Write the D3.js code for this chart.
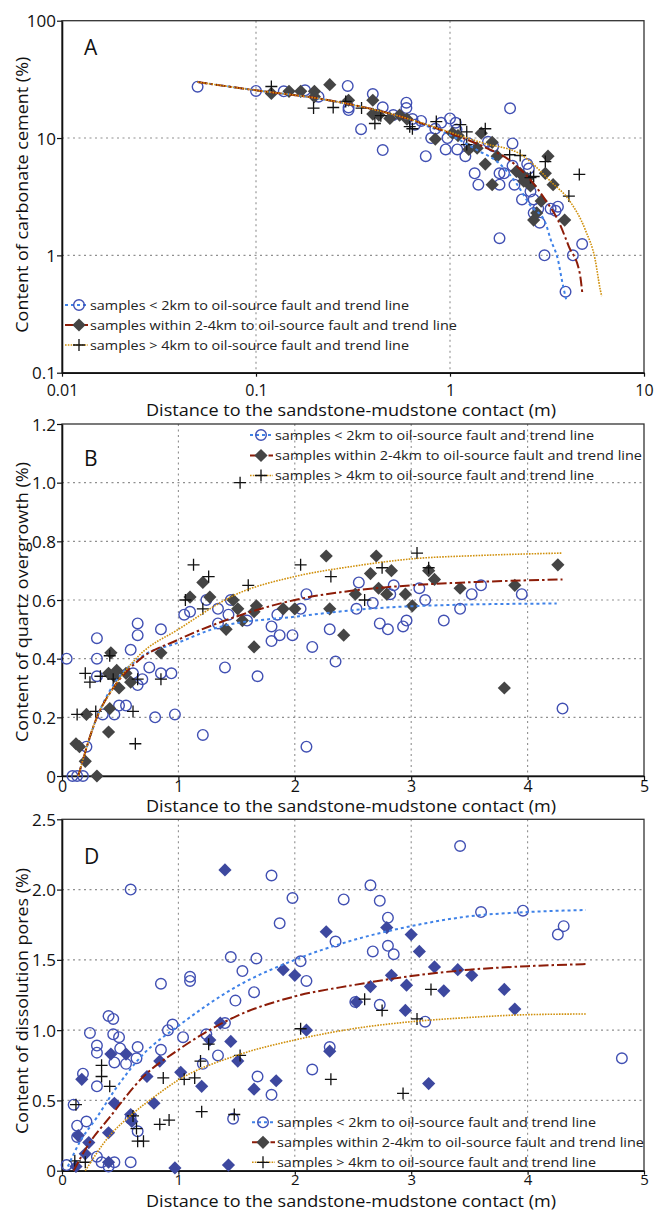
<!DOCTYPE html>
<html><head><meta charset="utf-8">
<script src="https://cdn.jsdelivr.net/npm/d3@7"></script>
<style>body{margin:0;background:#fff}svg{display:block;font-family:"Open Sans",sans-serif}</style>
</head><body><svg id="c" width="656" height="1211"></svg>
<script>
// ---------- Panel A data (log-log) ----------
const aNear = [[0.05,27.4],[0.1,25.2],[0.139,25],[0.179,25.5],[0.21,22.5],[0.297,27.8],[0.3,17.3],[0.3,18.2],[0.348,11.9],[0.4,23.7],[0.45,18.3],[0.45,7.9],[0.51,15.7],[0.596,20],[0.596,18],[0.64,14.5],[0.66,13],[0.71,14],[0.75,7],[0.8,10],[0.84,12],[0.9,13.5],[0.95,8],[0.97,10],[1.0,14.7],[1.07,13.5],[1.08,11.8],[1.09,8],[1.2,7],[1.25,9],[1.34,5],[1.4,4],[1.57,9.3],[1.67,8.5],[1.8,5],[1.8,4],[1.8,1.4],[1.9,5],[2.04,17.9],[2.1,9],[2.1,5.8],[2.15,4],[2.35,3],[2.5,6],[2.55,5.5],[2.6,3.5],[2.7,3],[2.7,2.3],[2.85,2.5],[2.9,1.9],[3.07,1.0],[3.3,2.5],[3.5,2.4],[3.6,2.6],[3.94,0.49],[4.3,1.0],[4.8,1.25]];
const aMid = [[0.12,24],[0.148,25],[0.17,25],[0.2,25],[0.2,22.5],[0.24,28.5],[0.3,21],[0.4,21],[0.4,16],[0.43,15.7],[0.49,14.7],[0.55,15.7],[0.6,14.5],[0.84,9.8],[1.03,11],[1.1,10.5],[1.25,8],[1.38,8.2],[1.45,11],[1.52,6],[1.65,4],[1.65,9.2],[1.75,7],[2.3,5],[2.4,4.3],[2.6,3.9],[2.7,2],[2.8,2.3],[2.95,2.9],[3.1,5],[3.2,7],[3.4,4],[3.9,2],[2.2,5.2],[2.5,4.5]];
const aFar = [[0.12,27.5],[0.198,18],[0.25,18.2],[0.29,20.5],[0.35,18],[0.41,13.3],[0.44,15.5],[0.62,12.5],[0.64,12],[0.85,13.8],[1.13,13],[1.22,11.3],[1.22,8.8],[1.52,12],[2.03,7.2],[2.3,7.1],[2.6,4.6],[2.7,4.7],[3.1,6.3],[4.1,3.2],[4.64,4.9]];
const aTrendNear = [[0.05,30],[0.1,25.5],[0.2,22],[0.3,19.5],[0.5,16],[0.7,13.3],[1.0,10.6],[1.4,7.8],[1.77,6.2],[2.2,4.1],[2.58,2.7],[3.1,1.9],[3.3,1.37],[3.6,0.92],[3.8,0.58],[3.97,0.42]];
const aTrendMid = [[0.05,30],[0.1,25.5],[0.2,22],[0.3,19.5],[0.5,16],[0.7,13.5],[1.0,11],[1.5,8.4],[2.02,6.5],[2.63,4.3],[3.1,2.97],[3.6,2.0],[4.1,1.19],[4.66,0.71],[4.82,0.46]];
const aTrendFar = [[0.05,30],[0.1,25.5],[0.2,22],[0.3,19.5],[0.5,16],[0.7,13.6],[1.0,11.2],[1.5,9.0],[2.27,7.4],[3.35,4.17],[4.1,2.97],[4.99,1.64],[5.6,0.92],[5.95,0.51],[6.05,0.45]];
const aXTicks = [0.01,0.1,1,10], aXLabels = ["0.01","0.1","1","10"];
const aYTicks = [0.1,1,10,100], aYLabels = ["0.1","1","10","100"];

// ---------- Panel B data ----------
const bNear = [[0.04,0.40],[0.09,0],[0.13,0],[0.18,0],[0.21,0.10],[0.30,0.47],[0.30,0.40],[0.30,0.34],[0.35,0.21],[0.45,0.21],[0.49,0.24],[0.55,0.24],[0.59,0.43],[0.61,0.35],[0.65,0.52],[0.65,0.48],[0.65,0.31],[0.69,0.33],[0.75,0.37],[0.80,0.20],[0.85,0.50],[0.85,0.35],[0.94,0.35],[0.97,0.21],[1.05,0.55],[1.10,0.56],[1.21,0.14],[1.24,0.60],[1.34,0.57],[1.34,0.52],[1.40,0.37],[1.43,0.55],[1.45,0.60],[1.59,0.53],[1.68,0.34],[1.80,0.51],[1.80,0.46],[1.85,0.55],[1.87,0.48],[1.98,0.48],[2.05,0.57],[2.10,0.62],[2.10,0.10],[2.15,0.44],[2.30,0.50],[2.35,0.39],[2.53,0.57],[2.55,0.66],[2.67,0.59],[2.73,0.52],[2.80,0.50],[2.85,0.65],[2.82,0.62],[2.93,0.51],[2.96,0.53],[3.07,0.64],[3.12,0.60],[3.28,0.53],[3.42,0.57],[3.52,0.62],[3.60,0.65],[3.95,0.62],[4.30,0.23]];
const bMid = [[0.12,0.11],[0.15,0.10],[0.20,0.05],[0.21,0.21],[0.30,0],[0.40,0.15],[0.41,0.23],[0.40,0.35],[0.42,0.42],[0.45,0.34],[0.47,0.36],[0.49,0.30],[0.55,0.35],[0.59,0.32],[0.85,0.42],[1.10,0.61],[1.21,0.66],[1.27,0.61],[1.41,0.50],[1.47,0.60],[1.51,0.57],[1.55,0.53],[1.65,0.56],[1.65,0.44],[1.67,0.58],[1.90,0.57],[2.00,0.57],[2.27,0.75],[2.30,0.57],[2.42,0.48],[2.52,0.62],[2.65,0.69],[2.70,0.75],[2.72,0.64],[2.79,0.62],[2.83,0.70],[2.95,0.62],[3.01,0.58],[3.15,0.70],[3.20,0.67],[3.42,0.64],[3.80,0.30],[3.89,0.65],[4.26,0.72]];
const bFar = [[0.13,0.21],[0.20,0.35],[0.24,0.32],[0.29,0.22],[0.33,0.34],[0.41,0.41],[0.44,0.33],[0.61,0.22],[0.63,0.11],[0.65,0.33],[0.85,0.33],[1.06,0.60],[1.13,0.72],[1.21,0.57],[1.26,0.68],[1.53,1.00],[1.60,0.65],[2.05,0.72],[2.31,0.68],[2.60,0.60],[2.75,0.71],[3.05,0.76],[3.15,0.71]];
const bTrendNear = [[0.14,0],[0.30,0.20],[0.44,0.31],[0.66,0.40],[1.0,0.455],[1.37,0.51],[2.0,0.543],[2.7,0.572],[3.43,0.584],[4.25,0.588]];
const bTrendMid = [[0.14,0],[0.30,0.20],[0.44,0.30],[0.66,0.395],[1.0,0.465],[1.4,0.53],[2.0,0.60],[2.5,0.632],[3.0,0.65],[3.6,0.662],[4.3,0.67]];
const bTrendFar = [[0.14,0],[0.30,0.20],[0.44,0.30],[0.66,0.41],[1.0,0.50],[1.5,0.62],[2.0,0.68],[2.5,0.715],[3.0,0.74],[3.6,0.752],[4.3,0.76]];
const bXTicks = [0,1,2,3,4,5], bXLabels = ["0","1","2","3","4","5"];
const bYTicks = [0,0.2,0.4,0.6,0.8,1.0,1.2], bYLabels = ["0","0.2","0.4","0.6","0.8","1.0","1.2"];

// ---------- Panel D data ----------
const dNear = [[0.04,0.04],[0.10,0.47],[0.13,0.32],[0.13,0.24],[0.18,0.69],[0.21,0.35],[0.24,0.98],[0.30,0.89],[0.30,0.84],[0.30,0.60],[0.30,0.10],[0.34,0.06],[0.40,1.10],[0.40,0.03],[0.44,1.08],[0.44,0.97],[0.45,0.77],[0.45,0.06],[0.49,0.95],[0.50,0.87],[0.55,0.76],[0.59,2.00],[0.59,0.06],[0.59,0.37],[0.64,0.80],[0.65,0.88],[0.65,0.28],[0.85,1.33],[0.85,0.86],[0.91,1.00],[0.95,1.04],[1.04,0.95],[1.10,1.38],[1.10,1.35],[1.21,0.76],[1.24,0.97],[1.34,0.82],[1.40,1.05],[1.45,1.52],[1.47,0.37],[1.49,1.21],[1.55,1.42],[1.65,1.27],[1.67,1.51],[1.68,0.67],[1.80,2.10],[1.80,0.54],[1.87,1.76],[1.98,1.94],[2.05,1.49],[2.10,1.35],[2.15,0.72],[2.30,0.88],[2.35,1.63],[2.42,1.93],[2.52,1.20],[2.65,2.03],[2.67,1.56],[2.73,1.92],[2.73,1.18],[2.80,1.80],[2.80,1.60],[2.85,1.54],[3.12,1.06],[3.42,2.31],[3.60,1.84],[3.96,1.85],[4.26,1.68],[4.31,1.74],[4.81,0.80]];
const dMid = [[0.12,0.03],[0.14,0.25],[0.17,0.65],[0.20,0.12],[0.23,0.20],[0.40,0.06],[0.40,0.27],[0.42,0.83],[0.45,0.48],[0.55,0.83],[0.59,0.40],[0.60,0.35],[0.73,0.67],[0.79,0.48],[0.84,0.78],[0.97,0.02],[1.02,0.70],[1.20,0.60],[1.27,0.93],[1.36,1.05],[1.40,2.14],[1.43,0.04],[1.45,0.92],[1.51,0.78],[1.65,0.58],[1.84,0.64],[1.90,1.43],[2.00,1.39],[2.10,1.00],[2.27,1.70],[2.30,0.85],[2.53,1.20],[2.65,1.31],[2.79,1.73],[2.83,1.39],[2.95,1.14],[2.96,1.32],[3.00,1.68],[3.07,1.56],[3.15,0.62],[3.20,1.45],[3.28,1.28],[3.40,1.43],[3.52,1.39],[3.80,1.29],[3.89,1.15]];
const dFar = [[0.11,0.07],[0.12,0.47],[0.20,0.06],[0.34,0.75],[0.34,0.67],[0.41,0.60],[0.61,0.39],[0.64,0.30],[0.65,0.21],[0.70,0.21],[0.84,0.33],[0.87,0.66],[0.92,0.36],[1.05,0.65],[1.14,0.66],[1.19,0.78],[1.20,0.42],[1.26,0.90],[1.48,0.40],[1.53,0.82],[2.05,1.01],[2.31,0.65],[2.60,1.22],[2.75,1.14],[2.93,0.55],[3.05,1.08],[3.17,1.29]];
const dTrendNear = [[0.05,0.03],[0.15,0.2],[0.3,0.38],[0.45,0.57],[0.7,0.83],[1.0,1.03],[1.5,1.31],[2.0,1.50],[2.5,1.64],[3.0,1.74],[3.5,1.81],[4.0,1.84],[4.5,1.855]];
const dTrendMid = [[0.1,0.0],[0.23,0.19],[0.4,0.37],[0.7,0.67],[1.0,0.86],[1.5,1.10],[2.0,1.24],[2.5,1.32],[3.0,1.385],[3.5,1.43],[4.0,1.455],[4.5,1.47]];
const dTrendFar = [[0.2,0.0],[0.4,0.24],[0.6,0.40],[0.8,0.53],[1.0,0.645],[1.5,0.82],[2.0,0.93],[2.5,1.01],[3.0,1.06],[3.5,1.09],[4.0,1.11],[4.5,1.115]];
const dYTicks = [0,0.5,1.0,1.5,2.0,2.5], dYLabels = ["0","0.5","1.0","1.5","2.0","2.5"];

const legendLabels = ["samples < 2km to oil-source fault and trend line","samples within 2-4km to oil-source fault and trend line","samples > 4km to oil-source fault and trend line"];
const xTitle = "Distance to the sandstone-mudstone contact (m)";

// ---------- drawing ----------
const svg = d3.select("#c");
const L = 62, R = 644;
const C = {circ:"#4150b3", blueLine:"#3f82e8", red:"#8c1c08", orange:"#d0900c", dia:"#454545", diaD:"#3d489f"};
const lineStyles = [
  {stroke:C.blueLine, w:2, dash:"3,3"},
  {stroke:C.red, w:2, dash:"10,3,2.5,3"},
  {stroke:C.orange, w:1.6, dash:"1.6,1.2"}
];
function diamondPath(s){return `M0,${-s}L${s},0L0,${s}L${-s},0Z`;}
function plusPath(s){return `M${-s},0H${s}M0,${-s}V${s}`;}

function drawMarker(g, type, x, y, diaColor){
  if(type===0) g.append("circle").attr("cx",x).attr("cy",y).attr("r",5.3).attr("fill","none").attr("stroke",C.circ).attr("stroke-width",1.4);
  else if(type===1) g.append("path").attr("d",diamondPath(6.6)).attr("transform",`translate(${x},${y})`).attr("fill",diaColor);
  else g.append("path").attr("d",plusPath(6)).attr("transform",`translate(${x},${y})`).attr("stroke","#111").attr("stroke-width",1.3).attr("fill","none");
}

function panel(cfg){
  const g = svg.append("g");
  const x = cfg.x, y = cfg.y;
  const top = cfg.top, bot = cfg.bot;
  g.selectAll(null).data(cfg.gridX).enter().append("line")
    .attr("x1",d=>x(d)).attr("x2",d=>x(d)).attr("y1",top).attr("y2",bot)
    .attr("stroke","#8f8f8f").attr("stroke-width",1.1).attr("stroke-dasharray","2,3.5");
  g.selectAll(null).data(cfg.gridY).enter().append("line")
    .attr("y1",d=>y(d)).attr("y2",d=>y(d)).attr("x1",L).attr("x2",R)
    .attr("stroke","#8f8f8f").attr("stroke-width",1.1).attr("stroke-dasharray","2,3.5");
  g.append("rect").attr("x",L).attr("y",top).attr("width",R-L).attr("height",bot-top)
    .attr("fill","none").attr("stroke","#333").attr("stroke-width",1.3);
  const xa = g.append("g").attr("transform",`translate(0,${bot})`)
    .call(d3.axisBottom(x).tickValues(cfg.xTicks).tickFormat((d,i)=>cfg.xLabels[i]).tickSize(4).tickSizeOuter(0));
  const ya = g.append("g").attr("transform",`translate(${L},0)`)
    .call(d3.axisLeft(y).tickValues(cfg.yTicks).tickFormat((d,i)=>cfg.yLabels[i]).tickSize(5).tickSizeOuter(0));
  [xa,ya].forEach(a=>{a.select(".domain").attr("stroke","#111").attr("stroke-width",1.6);
    a.selectAll(".tick line").attr("stroke","#111").attr("stroke-width",1.2);
    a.selectAll("text").attr("fill","#111").attr("font-family","'Open Sans',sans-serif");});
  xa.selectAll("text").attr("font-size",cfg.xLabSize).attr("dy",null).attr("y",cfg.xLabBase-bot);
  ya.selectAll("text").attr("font-size",17).attr("x",-6).attr("dy","0.36em");
  g.append("text").attr("x",(L+R)/2-2).attr("y",cfg.xTitleBase).attr("text-anchor","middle")
    .attr("font-size",cfg.xTitleSize).attr("fill","#111").attr("textLength",410).attr("lengthAdjust","spacingAndGlyphs").text(xTitle);
  g.append("text").attr("transform",`translate(${cfg.yTitleX},${(top+bot)/2+cfg.yTitleShift}) rotate(-90)`)
    .attr("text-anchor","middle").attr("font-size",17).attr("fill","#111")
    .attr("textLength",cfg.yTitleLen).attr("lengthAdjust","spacingAndGlyphs").text(cfg.yTitle);
  g.append("text").attr("x",84).attr("y",cfg.letterBase).attr("font-size",21).attr("fill","#111").text(cfg.letter);
  const mk = g.append("g");
  cfg.series.forEach((s,si)=>s.forEach(p=>drawMarker(mk, si, x(p[0]), y(p[1]), cfg.diaColor)));
  const line = d3.line().x(d=>x(d[0])).y(d=>y(d[1])).curve(d3.curveMonotoneX);
  cfg.trends.forEach((t,ti)=>{
    const st = lineStyles[ti];
    g.append("path").attr("d",line(t)).attr("fill","none").attr("stroke",st.stroke)
      .attr("stroke-width",st.w).attr("stroke-dasharray",st.dash);
  });
  const lg = g.append("g");
  cfg.legend.rows.forEach((ry,i)=>{
    const st = lineStyles[i];
    lg.append("line").attr("x1",cfg.legend.x0).attr("x2",cfg.legend.x1).attr("y1",ry).attr("y2",ry)
      .attr("stroke",st.stroke).attr("stroke-width",st.w).attr("stroke-dasharray",st.dash);
    drawMarker(lg, i, cfg.legend.sx, ry, C.dia);
    lg.append("text").attr("x",cfg.legend.tx).attr("y",ry+4.8).attr("font-size",13.5).attr("fill","#222")
      .attr("textLength",[319,367,319][i]).attr("lengthAdjust","spacingAndGlyphs").text(legendLabels[i]);
  });
}

panel({
  x: d3.scaleLog().domain([0.01,10]).range([L,R]),
  y: d3.scaleLog().domain([0.1,100]).range([372.7,20.7]),
  top:20.7, bot:372.7,
  gridX:[0.1,1], gridY:[1,10],
  xTicks:aXTicks, xLabels:aXLabels, yTicks:aYTicks, yLabels:aYLabels,
  xLabBase:396, xLabSize:16, xTitleBase:416, xTitleSize:16, yTitleX:28, yTitleShift:-2, yTitleLen:276, yTitle:"Content of carbonate cement (%)",
  letter:"A", letterBase:55, diaColor:C.dia,
  series:[aNear,aMid,aFar], trends:[aTrendNear,aTrendMid,aTrendFar],
  legend:{x0:65,x1:88,sx:79,tx:90,rows:[305,325,345]}
});
panel({
  x: d3.scaleLinear().domain([0,5]).range([L,R]),
  y: d3.scaleLinear().domain([0,1.2]).range([776,424]),
  top:424, bot:776,
  gridX:[1,2,3,4], gridY:[0.2,0.4,0.6,0.8,1.0],
  xTicks:bXTicks, xLabels:bXLabels, yTicks:bYTicks, yLabels:bYLabels,
  xLabBase:792, xLabSize:16, xTitleBase:812, xTitleSize:16, yTitleX:28, yTitleShift:2, yTitleLen:280, yTitle:"Content of quartz overgrowth (%)",
  letter:"B", letterBase:466, diaColor:C.dia,
  series:[bNear,bMid,bFar], trends:[bTrendNear,bTrendMid,bTrendFar],
  legend:{x0:250,x1:273,sx:261,tx:275,rows:[435,455.5,475.5]}
});
panel({
  x: d3.scaleLinear().domain([0,5]).range([L,R]),
  y: d3.scaleLinear().domain([0,2.5]).range([1170.7,819.3]),
  top:819.3, bot:1170.7,
  gridX:[1,2,3,4], gridY:[0.5,1.0,1.5,2.0],
  xTicks:bXTicks, xLabels:bXLabels, yTicks:dYTicks, yLabels:dYLabels,
  xLabBase:1185, xLabSize:15, xTitleBase:1207, xTitleSize:15.5, yTitleX:28, yTitleShift:6, yTitleLen:266, yTitle:"Content of dissolution pores (%)",
  letter:"D", letterBase:864, diaColor:C.diaD,
  series:[dNear,dMid,dFar], trends:[dTrendNear,dTrendMid,dTrendFar],
  legend:{x0:252,x1:275,sx:263,tx:277,rows:[1122.3,1142.3,1162.3]}
});
</script></body></html>
